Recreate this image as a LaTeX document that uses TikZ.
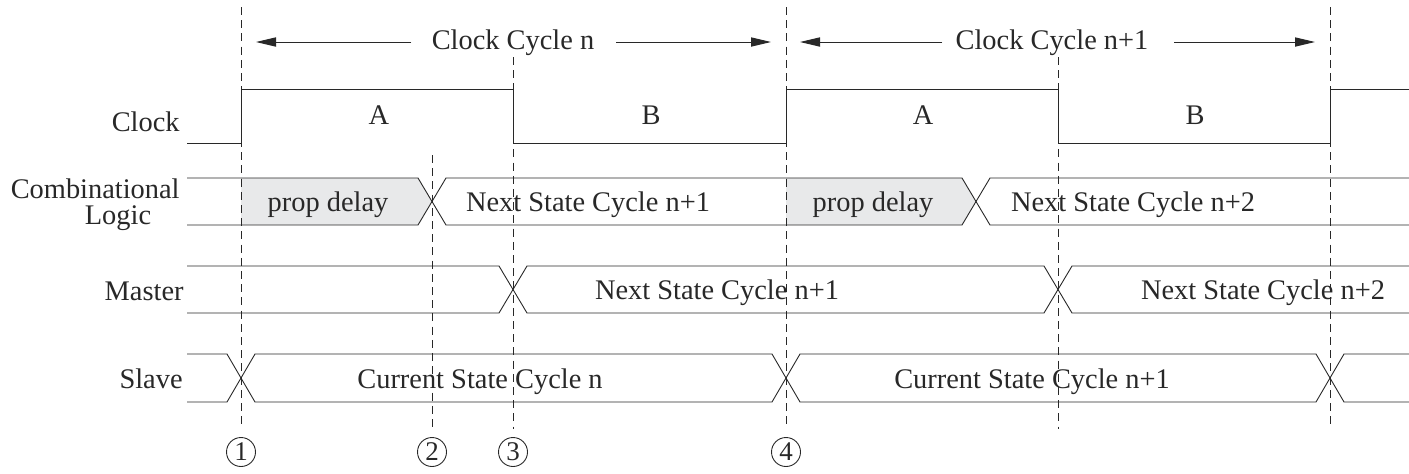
\documentclass[tikz,border=0pt]{standalone}
\usepackage{fontspec}
\setmainfont{Liberation Serif}
\usetikzlibrary{arrows.meta}
\definecolor{pgray}{RGB}{232,233,234}
\definecolor{ink}{RGB}{40,40,40}
\begin{document}
\begin{tikzpicture}[x=0.5pt,y=-0.5pt,
  sig/.style={line width=0.45pt, draw=ink, line join=miter},
  guide/.style={line width=0.45pt, draw=ink, dash pattern=on 4pt off 2.6pt},
  txt/.style={font=\fontsize{14.2pt}{17pt}\selectfont, inner sep=0pt, text=ink},
  arr/.style={line width=0.5pt, draw=ink, fill=ink, -{Triangle[length=10pt,width=4.6pt]}},
  circ/.style={circle, draw=ink, line width=0.45pt, minimum size=14.5pt, inner sep=0pt, text=ink, font=\fontsize{13.5pt}{15pt}\selectfont},
  shade/.style={fill=pgray, draw=none}
]
\useasboundingbox (0,0) rectangle (1409,473);

% grey propagation-delay areas
\fill[shade] (241,178) -- (418,178) -- (432,201.5) -- (418,225) -- (241,225) -- cycle;
\fill[shade] (786,178) -- (962,178) -- (976,201.5) -- (962,225) -- (786,225) -- cycle;

% guide lines
\draw[guide] (241,7) -- (241,429);
\draw[guide] (432,155) -- (432,429);
\draw[guide] (513,57) -- (513,429);
\draw[guide] (786,7) -- (786,429);
\draw[guide] (1058,57) -- (1058,429);
\draw[guide] (1330,7) -- (1330,429);

% clock
\draw[sig] (187,143) -- (241,143) -- (241,89) -- (513,89) -- (513,143) -- (786,143) -- (786,89)
  -- (1058,89) -- (1058,143) -- (1330,143) -- (1330,89) -- (1409,89);

% combinational logic
\draw[sig] (187,178) -- (418,178) -- (446,225) -- (962,225) -- (990,178) -- (1409,178);
\draw[sig] (187,225) -- (418,225) -- (446,178) -- (962,178) -- (990,225) -- (1409,225);

% master
\draw[sig] (187,266) -- (499,266) -- (527,313) -- (1044,313) -- (1072,266) -- (1409,266);
\draw[sig] (187,313) -- (499,313) -- (527,266) -- (1044,266) -- (1072,313) -- (1409,313);

% slave
\draw[sig] (187,354) -- (227,354) -- (255,402) -- (772,402) -- (800,354) -- (1316,354) -- (1344,402) -- (1409,402);
\draw[sig] (187,402) -- (227,402) -- (255,354) -- (772,354) -- (800,402) -- (1316,402) -- (1344,354) -- (1409,354);

% row labels
\node[txt, anchor=base east] (lclk) at (180,131) {Clock};
\node[txt, anchor=base east] (lcomb) at (180,198) {Combinational};
\node[txt, anchor=base] (llogic) at (118,224) {Logic};
\node[txt, anchor=base east] (lmas) at (184,300) {Master};
\node[txt, anchor=base east] (lsla) at (183,388) {Slave};

% clock phase labels
\node[txt, anchor=base] (pa1) at (379,124) {A};
\node[txt, anchor=base] (pb1) at (651,124) {B};
\node[txt, anchor=base] (pa2) at (923,124) {A};
\node[txt, anchor=base] (pb2) at (1195,124) {B};

% signal contents
\node[txt, anchor=base] (cp1) at (328,211.5) {prop delay};
\node[txt, anchor=base] (cn1) at (588,211.5) {Next State Cycle n+1};
\node[txt, anchor=base] (cp2) at (873,211.5) {prop delay};
\node[txt, anchor=base] (cn2) at (1133,211.5) {Next State Cycle n+2};
\node[txt, anchor=base] (mn1) at (717,299.5) {Next State Cycle n+1};
\node[txt, anchor=base] (mn2) at (1263,299.5) {Next State Cycle n+2};
\node[txt, anchor=base] (sc1) at (480,388) {Current State Cycle n};
\node[txt, anchor=base] (sc2) at (1032,388) {Current State Cycle n+1};

% clock cycle spans
\node[txt, anchor=base] (cyc1) at (513,49) {Clock Cycle n};
\node[txt, anchor=base] (cyc2) at (1052,49) {Clock Cycle n+1};
\coordinate (a1s) at (411,42); \coordinate (a1t) at (256,42);
\coordinate (a2s) at (616,42); \coordinate (a2t) at (771,42);
\coordinate (a3s) at (942,42); \coordinate (a3t) at (800,42);
\coordinate (a4s) at (1174,42); \coordinate (a4t) at (1315,42);
\draw[arr] (a1s) -- (a1t);
\draw[arr] (a2s) -- (a2t);
\draw[arr] (a3s) -- (a3t);
\draw[arr] (a4s) -- (a4t);

% event markers
\node[circ] (m1) at (241,452) {1};
\node[circ] (m2) at (432,452) {2};
\node[circ] (m3) at (513,452) {3};
\node[circ] (m4) at (786,452) {4};
\end{tikzpicture}
\end{document}
